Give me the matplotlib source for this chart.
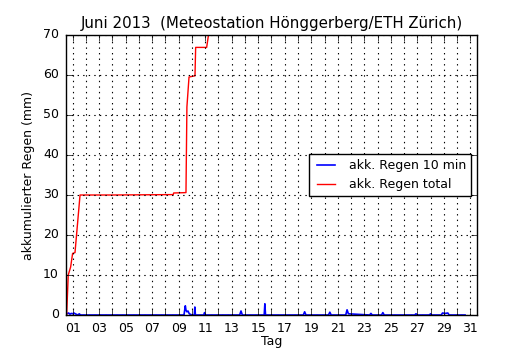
import matplotlib

matplotlib.use("Agg")
import matplotlib.pyplot as plt
from matplotlib.ticker import MultipleLocator, FuncFormatter

plt.style.use("classic")

# accumulated total rain (mm), day of month
total_days = [0.55, 0.67, 0.85, 1.0, 1.18, 1.56, 4.0, 8.59, 8.62, 9.55, 9.62, 9.78,
              10.23, 10.28, 11.11, 11.23, 11.5, 14.0, 16.0, 22.0, 26.0, 30.6]
total_mm = [0.0, 10.0, 12.0, 15.4, 15.6, 30.0, 30.0, 30.1, 30.5, 30.6, 52.0, 59.5,
            59.8, 66.9, 66.9, 69.6, 74.0, 76.0, 81.0, 85.0, 87.0, 88.0]

# rain per 10 minutes (mm)
tenmin_days = [0.55, 0.7, 0.8, 0.9, 1.0, 1.1, 1.2, 1.4, 1.5, 1.6, 9.40, 9.50, 9.55, 9.62,
               9.70, 9.80, 10.0, 10.18, 10.22, 10.26, 10.5, 10.9, 10.95, 11.0, 13.6, 13.7,
               13.8, 15.45, 15.5, 15.55, 18.4, 18.5, 18.6, 20.3, 20.4, 20.5, 21.6, 21.7,
               21.8, 23.4, 23.5, 23.6, 24.3, 24.4, 24.5, 26.8, 26.9, 27.0, 27.9, 28.0,
               28.1, 28.8, 28.9, 29.1, 29.3, 29.4, 30.6]
tenmin_mm = [0.3, 0.5, 0.2, 0.4, 0.3, 0.5, 0.3, 0.0, 0.3, 0.0, 0.0, 2.3, 1.2, 0.8,
             1.0, 0.3, 0.0, 0.0, 2.0, 0.0, 0.0, 0.0, 0.6, 0.0, 0.0, 1.0,
             0.0, 0.0, 2.8, 0.0, 0.0, 0.8, 0.0, 0.0, 0.7, 0.0, 0.0, 1.3,
             0.3, 0.0, 0.4, 0.0, 0.0, 0.6, 0.0, 0.0, 0.3, 0.0, 0.0, 0.3,
             0.0, 0.0, 0.5, 0.4, 0.5, 0.0, 0.0]

fig = plt.figure(figsize=(5.3, 3.5), dpi=100, facecolor="white")
ax = fig.add_axes([0.1245, 0.1, 0.7755, 0.8])
ax.set_facecolor("white")

ax.plot(tenmin_days, tenmin_mm, color="blue", linewidth=1.2, label="akk. Regen 10 min")
ax.plot(total_days, total_mm, color="red", linewidth=1.0, label="akk. Regen total")

ax.set_xlim(0.5, 31.5)
ax.set_ylim(0, 70)
ax.xaxis.set_major_locator(MultipleLocator(1))
ax.xaxis.set_major_formatter(FuncFormatter(lambda v, p: f"{int(round(v)):02d}" if int(round(v)) % 2 == 1 else ""))
ax.yaxis.set_major_locator(MultipleLocator(10))
ax.grid(True, linestyle=":", color="black", linewidth=0.8)
ax.tick_params(labelsize=9, pad=5)

ax.set_xlabel("Tag", fontsize=9, labelpad=0)
ax.set_ylabel("akkumulierter Regen (mm)", fontsize=9, labelpad=6)
ax.set_title("Juni 2013  (Meteostation Hönggerberg/ETH Zürich)", fontsize=10.8)

leg = ax.legend(loc="center right", bbox_to_anchor=(0.985, 0.5), fontsize=9,
                fancybox=False, borderaxespad=0.0)
leg.get_frame().set_edgecolor("black")

fig.savefig("out.png", dpi=100, facecolor="white")
